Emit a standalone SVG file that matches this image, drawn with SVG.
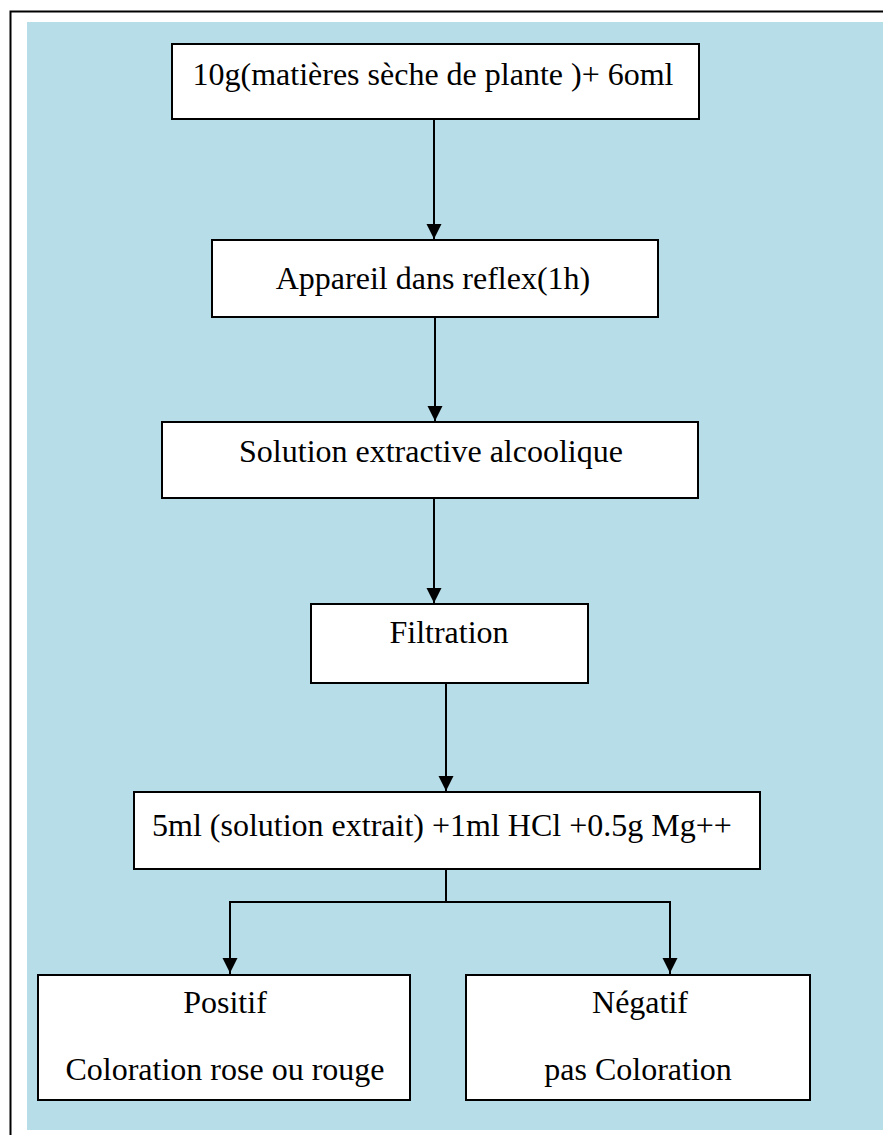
<svg xmlns="http://www.w3.org/2000/svg" width="883" height="1135" viewBox="0 0 883 1135">
  <style>
    .box { fill: #ffffff; stroke: #000000; stroke-width: 2; }
    .lbl { font-family: "Liberation Serif", "Times New Roman", serif; font-size: 32px; fill: #000000; }
    .mid { text-anchor: middle; }
    .wire { fill: none; stroke: #000000; stroke-width: 2; }
  </style>
  <defs>
    <marker id="arrow" markerUnits="userSpaceOnUse" markerWidth="16" markerHeight="16" viewBox="0 0 16 16" refX="15" refY="8" orient="auto">
      <path d="M0,0.5 L15,8 L0,15.5 Z" fill="#000000"/>
    </marker>
  </defs>

  <!-- page frame and shaded panel -->
  <rect x="0" y="0" width="883" height="1135" fill="#ffffff"/>
  <path d="M10.5,1135 V11.5 H883" fill="none" stroke="#000000" stroke-width="2"/>
  <rect x="27" y="22" width="856" height="1108" fill="#b7dde8"/>

  <!-- connectors -->
  <g id="connectors">
    <line class="wire" x1="434" y1="119" x2="434" y2="239" marker-end="url(#arrow)"/>
    <line class="wire" x1="435" y1="317" x2="435" y2="421" marker-end="url(#arrow)"/>
    <line class="wire" x1="434" y1="498" x2="434" y2="603" marker-end="url(#arrow)"/>
    <line class="wire" x1="446" y1="683" x2="446" y2="791" marker-end="url(#arrow)"/>
    <polyline class="wire" points="446,869 446,902"/>
    <polyline class="wire" points="230,974 230,902 670,902 670,974"/>
    <line class="wire" x1="230" y1="950" x2="230" y2="973" marker-end="url(#arrow)"/>
    <line class="wire" x1="670" y1="950" x2="670" y2="973" marker-end="url(#arrow)"/>
  </g>

  <g id="step-plant">
    <rect class="box" x="172" y="44" width="527" height="75"/>
    <text class="lbl mid" x="433" y="85">10g(matières sèche de plante )+ 6oml</text>
  </g>

  <g id="step-reflux">
    <rect class="box" x="212" y="240" width="446" height="77"/>
    <text class="lbl mid" x="433" y="289">Appareil dans reflex(1h)</text>
  </g>

  <g id="step-solution">
    <rect class="box" x="162" y="422" width="536" height="76"/>
    <text class="lbl mid" x="431" y="462">Solution extractive alcoolique</text>
  </g>

  <g id="step-filtration">
    <rect class="box" x="311" y="604" width="277" height="79"/>
    <text class="lbl mid" x="449" y="643">Filtration</text>
  </g>

  <g id="step-test">
    <rect class="box" x="134" y="792" width="626" height="77"/>
    <text class="lbl" x="152" y="836">5ml (solution extrait) +1ml HCl +0.5g Mg++</text>
  </g>

  <g id="result-positive">
    <rect class="box" x="38" y="975" width="372" height="125"/>
    <text class="lbl mid" x="225" y="1013">Positif</text>
    <text class="lbl mid" x="225" y="1080">Coloration rose ou rouge</text>
  </g>

  <g id="result-negative">
    <rect class="box" x="466" y="975" width="344" height="125"/>
    <text class="lbl mid" x="640" y="1013">Négatif</text>
    <text class="lbl mid" x="638" y="1080">pas Coloration</text>
  </g>
</svg>
